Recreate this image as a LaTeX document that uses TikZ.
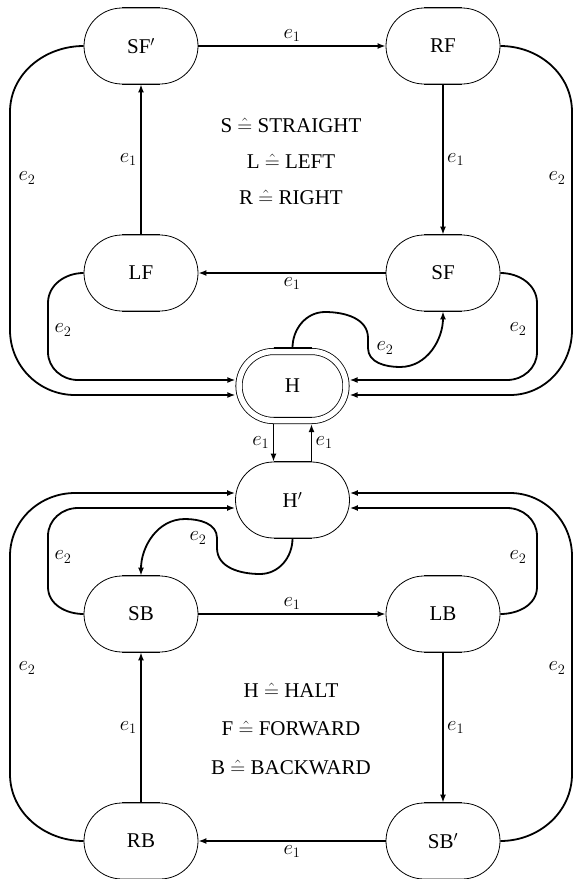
\documentclass[tikz,border=0pt]{standalone}
\usepackage{fontspec}
\setmainfont{Liberation Serif}
\usetikzlibrary{arrows.meta}
\begin{document}
\begin{tikzpicture}[x=1pt,y=1pt,
  every node/.style={font=\fontsize{21}{25}\selectfont},
  st/.style={draw, line width=0.8pt, rectangle, rounded corners=38pt, minimum width=114pt, minimum height=76pt, inner sep=0pt},
  conn/.style={line width=1.8pt, -{Latex[length=8pt,width=6pt]}},
  flat/.style={line width=1.6pt},
  lbl/.style={inner sep=0pt}]
\useasboundingbox (0,0) rectangle (573,-879);

% states
\node[st] (SFp) at (141,-46) {SF$'$};
\node[st] (RF) at (443,-46) {RF};
\node[st] (LF) at (141,-273) {LF};
\node[st] (SF) at (443,-273) {SF};
\node[st, double, double distance=5.5pt, minimum width=107pt, minimum height=69pt, rounded corners=34.5pt, outer sep=3.6pt] (H) at (292.5,-386) {H};
\node[st] (Hp) at (292.5,-500) {H$'$};
\node[st] (SB) at (141,-614) {SB};
\node[st] (LB) at (443,-614) {LB};
\node[st] (RB) at (141,-841) {RB};
\node[st] (SBp) at (443,-841) {SB$'$};

% heavier flat edges
\foreach \n in {SFp,RF,LF,SF,Hp,SB,LB,RB,SBp} {
  \draw[flat] ([xshift=-19pt]\n.north) -- ([xshift=19pt]\n.north);
  \draw[flat] ([xshift=-19pt]\n.south) -- ([xshift=19pt]\n.south);
}
\draw[flat] ([xshift=-19pt]H.north) -- ([xshift=19pt]H.north);
\draw[flat] ([xshift=-19pt,yshift=6.75pt]H.south) -- ([xshift=19pt,yshift=6.75pt]H.south);

% legends
\node (l1) at (291,-125) {S $\hat{=}$ STRAIGHT};
\node (l2) at (291,-161) {L $\hat{=}$ LEFT};
\node (l3) at (291,-197) {R $\hat{=}$ RIGHT};
\node (l4) at (291,-690) {H $\hat{=}$ HALT};
\node (l5) at (291,-728) {F $\hat{=}$ FORWARD};
\node (l6) at (291,-767) {B $\hat{=}$ BACKWARD};

% e1 transitions
\draw[conn] (SFp) -- node[above] {$e_1$} (RF);
\draw[conn] (RF) -- node[right] {$e_1$} (SF);
\draw[conn] (SF) -- node[below] {$e_1$} (LF);
\draw[conn] (LF) -- node[left] {$e_1$} (SFp);
\draw[conn] (SB) -- node[above] {$e_1$} (LB);
\draw[conn] (LB) -- node[right] {$e_1$} (SBp);
\draw[conn] (SBp) -- node[below] {$e_1$} (RB);
\draw[conn] (RB) -- node[left] {$e_1$} (SB);
\draw[conn] ([xshift=-19pt]H.south) -- node[left] {$e_1$} ([xshift=-19pt]Hp.north);
\draw[conn] ([xshift=19pt]Hp.north) -- node[right] {$e_1$} ([xshift=19pt]H.south);

% rails
\coordinate (ya) at (0,-380);
\coordinate (yb) at (0,-395);
\coordinate (yc) at (0,-493);
\coordinate (yd) at (0,-508);

% e2 transitions, upper half
\draw[conn] (SFp.west) to[out=180,in=90] (10,-112) -- (10,-330) to[out=-90,in=180] (75,-395) -- (H.west |- yb)
  node[lbl] at (27,-178) {$e_2$};
\draw[conn] (LF.west) to[out=180,in=90] (48,-303) -- (48,-352) to[out=-90,in=180] (78,-380) -- (H.west |- ya)
  node[lbl] at (63,-330) {$e_2$};
\draw[conn] (RF.east) to[out=0,in=90] (572,-112) -- (572,-330) to[out=-90,in=0] (510,-395) -- (H.east |- yb)
  node[lbl] at (557,-178) {$e_2$};
\draw[conn] (SF.east) to[out=0,in=90] (537,-303) -- (537,-352) to[out=-90,in=0] (507,-380) -- (H.east |- ya)
  node[lbl] at (518,-329) {$e_2$};
\draw[conn] (H.north) to[out=90,in=180] (325,-312) to[out=0,in=90] (368,-338) -- (368,-348) to[out=-90,in=180] (400,-367) to[out=0,in=-90] (SF.south)
  node[lbl] at (385,-348) {$e_2$};

% e2 transitions, lower half
\draw[conn] (RB.west) to[out=180,in=-90] (10,-774) -- (10,-556) to[out=90,in=180] (75,-493) -- (Hp.west |- yc)
  node[lbl] at (27,-668) {$e_2$};
\draw[conn] (SB.west) to[out=180,in=-90] (48,-587) -- (48,-536) to[out=90,in=180] (78,-508) -- (Hp.west |- yd)
  node[lbl] at (63,-557) {$e_2$};
\draw[conn] (SBp.east) to[out=0,in=-90] (572,-774) -- (572,-556) to[out=90,in=0] (510,-493) -- (Hp.east |- yc)
  node[lbl] at (557,-668) {$e_2$};
\draw[conn] (LB.east) to[out=0,in=-90] (537,-587) -- (537,-536) to[out=90,in=0] (507,-508) -- (Hp.east |- yd)
  node[lbl] at (518,-557) {$e_2$};
\draw[conn] (Hp.south) to[out=-90,in=0] (260,-574) to[out=180,in=-90] (217,-548) -- (217,-538) to[out=90,in=0] (185,-519) to[out=180,in=90] (SB.north)
  node[lbl] at (198,-538) {$e_2$};
\end{tikzpicture}
\end{document}
